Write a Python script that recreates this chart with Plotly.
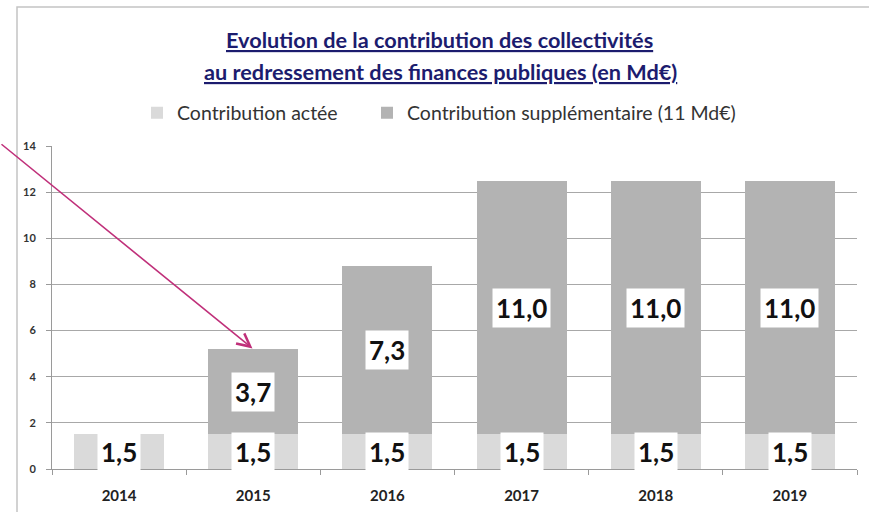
import plotly.graph_objects as go

years = ["2014", "2015", "2016", "2017", "2018", "2019"]
contribution_actee = [1.5, 1.5, 1.5, 1.5, 1.5, 1.5]
contribution_supp = [0.0, 3.7, 7.3, 11.0, 11.0, 11.0]
y_ticks = [0, 2, 4, 6, 8, 10, 12, 14]

title_l1 = "Evolution de la contribution des collectivités"
title_l2 = "au redressement des finances publiques (en Md€)"
name_actee = "Contribution actée"
name_supp = "Contribution supplémentaire (11 Md€)"

W, H = 869, 512
ML, MR, MT, MB = 52, 12, 146, 43
PW, PH = W - ML - MR, H - MT - MB


def px_x(x):
    return (x - ML) / PW


def px_y(y):
    return (H - MB - y) / PH


def fmt(v):
    return f"{v:.1f}".replace(".", ",")


FONT = "Lato, 'Open Sans', sans-serif"
C_LIGHT = "#dadada"
C_DARK = "#b3b3b3"

fig = go.Figure()
fig.add_trace(go.Bar(x=years, y=contribution_actee, name=name_actee,
                     marker=dict(color=C_LIGHT, line=dict(width=0)),
                     legend="legend", hoverinfo="skip"))
fig.add_trace(go.Bar(x=years, y=contribution_supp, name=name_supp,
                     marker=dict(color=C_DARK, line=dict(width=0)),
                     legend="legend2", hoverinfo="skip"))

annotations = []
for i, (a, s) in enumerate(zip(contribution_actee, contribution_supp)):
    annotations.append(dict(x=i, y=a / 2, xref="x", yref="y", text=f"<b>{fmt(a)}</b>",
                            showarrow=False, bgcolor="white", borderpad=3,
                            font=dict(family=FONT, size=26, color="#111111")))
    if s > 0:
        annotations.append(dict(x=i, y=a + s / 2, xref="x", yref="y", text=f"<b>{fmt(s)}</b>",
                                showarrow=False, bgcolor="white", borderpad=3,
                                font=dict(family=FONT, size=26, color="#111111")))

# arrow pointing at the top of the 2015 bar
annotations.append(dict(x=1, y=contribution_actee[1] + contribution_supp[1],
                        xref="x", yref="y", text="", showarrow=True,
                        ax=-254, ay=-206, arrowhead=5, arrowsize=1.6, arrowwidth=1.6,
                        arrowcolor="#c0307a", standoff=1))

# title lines
annotations.append(dict(x=px_x(439), y=px_y(40), xref="paper", yref="paper",
                        text=f"<b><u>{title_l1}</u></b>", showarrow=False,
                        xanchor="center", yanchor="middle",
                        font=dict(family=FONT, size=21.7, color="#1c1c6e")))
annotations.append(dict(x=px_x(440), y=px_y(72), xref="paper", yref="paper",
                        text=f"<b><u>{title_l2}</u></b>", showarrow=False,
                        xanchor="center", yanchor="middle",
                        font=dict(family=FONT, size=21.7, color="#1c1c6e")))

shapes = [dict(type="rect", xref="paper", yref="paper",
               x0=px_x(17), x1=px_x(900), y0=px_y(7), y1=px_y(560),
               line=dict(color="#c4c4c4", width=1.5), fillcolor="rgba(0,0,0,0)",
               layer="below")]

leg_common = dict(orientation="h", xanchor="left", yanchor="middle",
                  font=dict(family=FONT, size=19.5, color="#333333"),
                  itemwidth=30, bgcolor="rgba(0,0,0,0)")

fig.update_layout(
    width=W, height=H,
    margin=dict(l=ML, r=MR, t=MT, b=MB, autoexpand=False),
    barmode="stack",
    bargap=0.33,
    plot_bgcolor="white",
    paper_bgcolor="white",
    font=dict(family=FONT, color="#333333"),
    showlegend=True,
    legend=dict(x=px_x(137), y=px_y(113), **leg_common),
    legend2=dict(x=px_x(367), y=px_y(113), **leg_common),
    annotations=annotations,
    shapes=shapes,
)

fig.update_xaxes(type="category", range=[-0.5, len(years) - 0.5], automargin=False,
                 showline=True, linecolor="#9a9a9a", linewidth=1,
                 ticks="outside", tickson="boundaries", ticklen=5, tickcolor="#9a9a9a",
                 showgrid=False, ticklabelstandoff=13,
                 tickfont=dict(family=FONT, size=15, color="#222222", weight="bold"))
fig.update_yaxes(range=[0, 14], tickvals=y_ticks, automargin=False,
                 showline=True, linecolor="#9a9a9a",
                 linewidth=1, ticks="outside", ticklen=5, tickcolor="#9a9a9a",
                 showgrid=True, gridcolor="#a8a8a8", gridwidth=1, zeroline=False,
                 ticklabelstandoff=8,
                 tickfont=dict(family=FONT, size=11, color="#333333", weight="bold"))

fig.write_html("out.html", config={"displayModeBar": False},
               post_script="document.body.style.margin='0px';document.body.style.overflow='hidden';")
